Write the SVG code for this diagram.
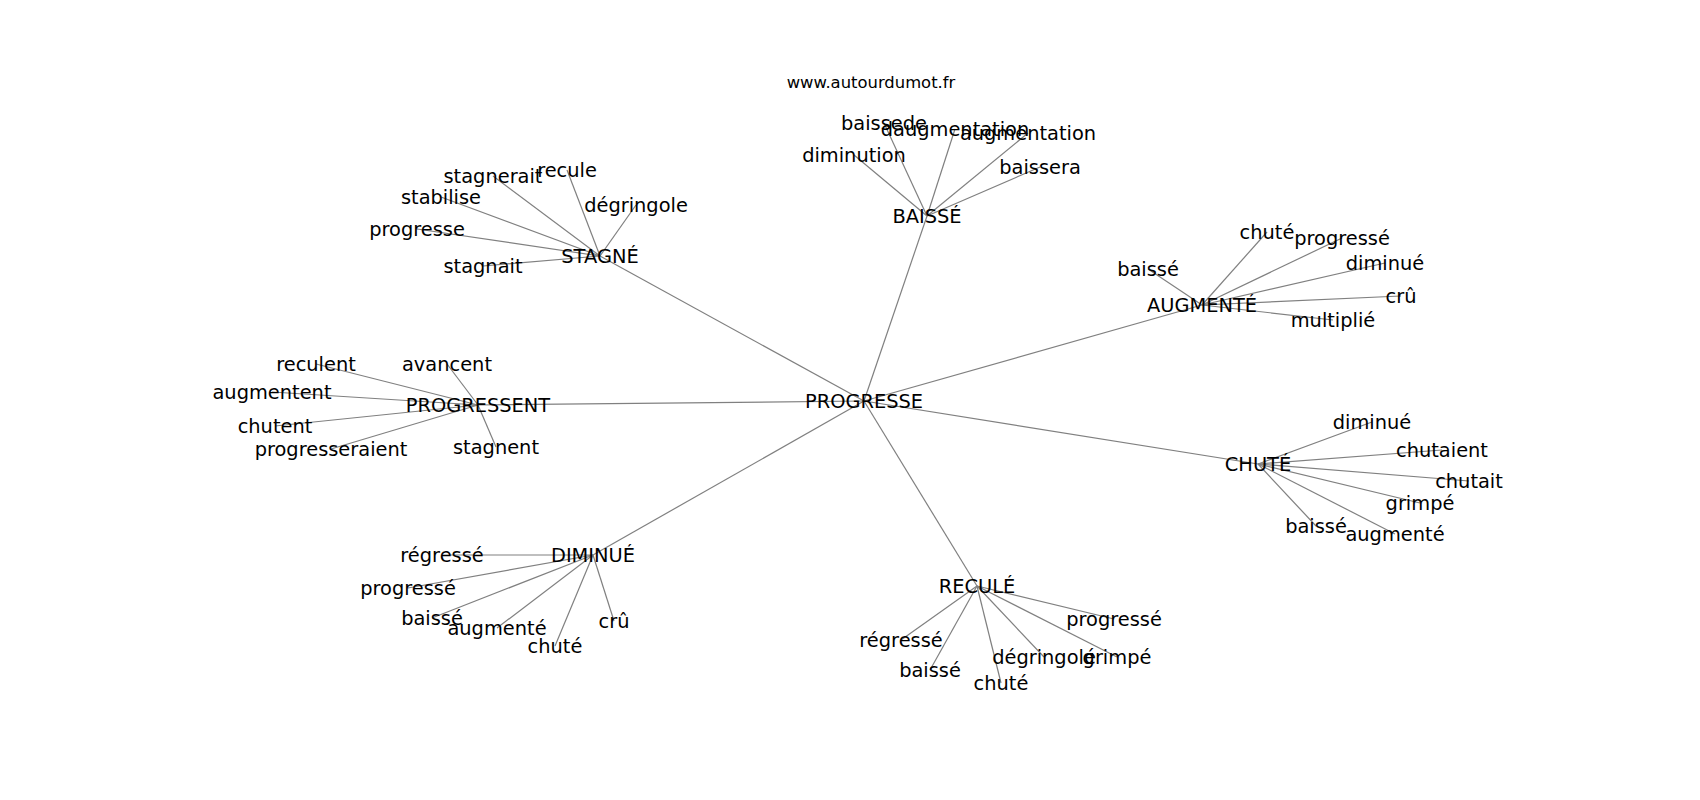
<svg xmlns="http://www.w3.org/2000/svg" width="1700" height="800" viewBox="0 0 1700 800">
<style>
text{font-family:"DejaVu Sans",sans-serif;font-size:19.4px;fill:#000;text-anchor:middle}
.title{font-size:16.4px}
.e{stroke:#808080;stroke-width:1.2;fill:none}
</style>
<rect width="1700" height="800" fill="#fff"/>
<text class="title" x="871" y="88">www.autourdumot.fr</text>
<g id="edges" class="e">
<line x1="864" y1="401" x2="600" y2="256"/>
<line x1="864" y1="401" x2="478" y2="405"/>
<line x1="864" y1="401" x2="927" y2="216"/>
<line x1="864" y1="401" x2="1202" y2="305"/>
<line x1="864" y1="401" x2="1258" y2="464"/>
<line x1="864" y1="401" x2="977" y2="586"/>
<line x1="864" y1="401" x2="593" y2="555"/>
<line x1="600" y1="256" x2="493" y2="176"/>
<line x1="600" y1="256" x2="567" y2="170"/>
<line x1="600" y1="256" x2="636" y2="205"/>
<line x1="600" y1="256" x2="441" y2="197"/>
<line x1="600" y1="256" x2="417" y2="229"/>
<line x1="600" y1="256" x2="483" y2="266"/>
<line x1="478" y1="405" x2="316" y2="364"/>
<line x1="478" y1="405" x2="447" y2="364"/>
<line x1="478" y1="405" x2="272" y2="392"/>
<line x1="478" y1="405" x2="275" y2="426"/>
<line x1="478" y1="405" x2="331" y2="449"/>
<line x1="478" y1="405" x2="496" y2="447"/>
<line x1="927" y1="216" x2="854" y2="155"/>
<line x1="927" y1="216" x2="884" y2="123"/>
<line x1="927" y1="216" x2="955" y2="129"/>
<line x1="927" y1="216" x2="1028" y2="133"/>
<line x1="927" y1="216" x2="1040" y2="167"/>
<line x1="1202" y1="305" x2="1148" y2="269"/>
<line x1="1202" y1="305" x2="1267" y2="232"/>
<line x1="1202" y1="305" x2="1342" y2="238"/>
<line x1="1202" y1="305" x2="1385" y2="263"/>
<line x1="1202" y1="305" x2="1401" y2="296"/>
<line x1="1202" y1="305" x2="1333" y2="320"/>
<line x1="1258" y1="464" x2="1372" y2="422"/>
<line x1="1258" y1="464" x2="1442" y2="450"/>
<line x1="1258" y1="464" x2="1469" y2="481"/>
<line x1="1258" y1="464" x2="1420" y2="503"/>
<line x1="1258" y1="464" x2="1316" y2="526"/>
<line x1="1258" y1="464" x2="1395" y2="534"/>
<line x1="593" y1="555" x2="442" y2="555"/>
<line x1="593" y1="555" x2="408" y2="588"/>
<line x1="593" y1="555" x2="432" y2="618"/>
<line x1="593" y1="555" x2="497" y2="628"/>
<line x1="593" y1="555" x2="555" y2="646"/>
<line x1="593" y1="555" x2="614" y2="621"/>
<line x1="977" y1="586" x2="901" y2="640"/>
<line x1="977" y1="586" x2="930" y2="670"/>
<line x1="977" y1="586" x2="1001" y2="683"/>
<line x1="977" y1="586" x2="1044" y2="657"/>
<line x1="977" y1="586" x2="1117" y2="657"/>
<line x1="977" y1="586" x2="1114" y2="619"/>
</g>
<g id="n-progresse"><text x="864" y="408">PROGRESSE</text></g>
<g id="n-stagne"><text x="600" y="263">STAGNÉ</text></g>
<g id="n-stagnerait"><text x="493" y="183">stagnerait</text></g>
<g id="n-recule"><text x="567" y="177">recule</text></g>
<g id="n-degringole"><text x="636" y="212">dégringole</text></g>
<g id="n-stabilise"><text x="441" y="204">stabilise</text></g>
<g id="n-progresse2"><text x="417" y="236">progresse</text></g>
<g id="n-stagnait"><text x="483" y="273">stagnait</text></g>
<g id="n-progressent"><text x="478" y="412">PROGRESSENT</text></g>
<g id="n-reculent"><text x="316" y="371">reculent</text></g>
<g id="n-avancent"><text x="447" y="371">avancent</text></g>
<g id="n-augmentent"><text x="272" y="399">augmentent</text></g>
<g id="n-chutent"><text x="275" y="433">chutent</text></g>
<g id="n-progresseraient"><text x="331" y="456">progresseraient</text></g>
<g id="n-stagnent"><text x="496" y="454">stagnent</text></g>
<g id="n-baisse"><text x="927" y="223">BAISSÉ</text></g>
<g id="n-diminution"><text x="854" y="162">diminution</text></g>
<g id="n-baissede"><text x="884" y="130">baissede</text></g>
<g id="n-daugmentation"><text x="955" y="136">daugmentation</text></g>
<g id="n-augmentation"><text x="1028" y="140">augmentation</text></g>
<g id="n-baissera"><text x="1040" y="174">baissera</text></g>
<g id="n-augmente"><text x="1202" y="312">AUGMENTÉ</text></g>
<g id="n-a-baisse"><text x="1148" y="276">baissé</text></g>
<g id="n-a-chute"><text x="1267" y="239">chuté</text></g>
<g id="n-a-progresse"><text x="1342" y="245">progressé</text></g>
<g id="n-a-diminue"><text x="1385" y="270">diminué</text></g>
<g id="n-a-cru"><text x="1401" y="303">crû</text></g>
<g id="n-a-multiplie"><text x="1333" y="327">multiplié</text></g>
<g id="n-chute"><text x="1258" y="471">CHUTÉ</text></g>
<g id="n-c-diminue"><text x="1372" y="429">diminué</text></g>
<g id="n-c-chutaient"><text x="1442" y="457">chutaient</text></g>
<g id="n-c-chutait"><text x="1469" y="488">chutait</text></g>
<g id="n-c-grimpe"><text x="1420" y="510">grimpé</text></g>
<g id="n-c-baisse"><text x="1316" y="533">baissé</text></g>
<g id="n-c-augmente"><text x="1395" y="541">augmenté</text></g>
<g id="n-diminue"><text x="593" y="562">DIMINUÉ</text></g>
<g id="n-d-regresse"><text x="442" y="562">régressé</text></g>
<g id="n-d-progresse"><text x="408" y="595">progressé</text></g>
<g id="n-d-baisse"><text x="432" y="625">baissé</text></g>
<g id="n-d-augmente"><text x="497" y="635">augmenté</text></g>
<g id="n-d-chute"><text x="555" y="653">chuté</text></g>
<g id="n-d-cru"><text x="614" y="628">crû</text></g>
<g id="n-recule2"><text x="977" y="593">RECULÉ</text></g>
<g id="n-r-regresse"><text x="901" y="647">régressé</text></g>
<g id="n-r-baisse"><text x="930" y="677">baissé</text></g>
<g id="n-r-chute"><text x="1001" y="690">chuté</text></g>
<g id="n-r-degringole"><text x="1044" y="664">dégringolé</text></g>
<g id="n-r-grimpe"><text x="1117" y="664">grimpé</text></g>
<g id="n-r-progresse"><text x="1114" y="626">progressé</text></g>
</svg>
